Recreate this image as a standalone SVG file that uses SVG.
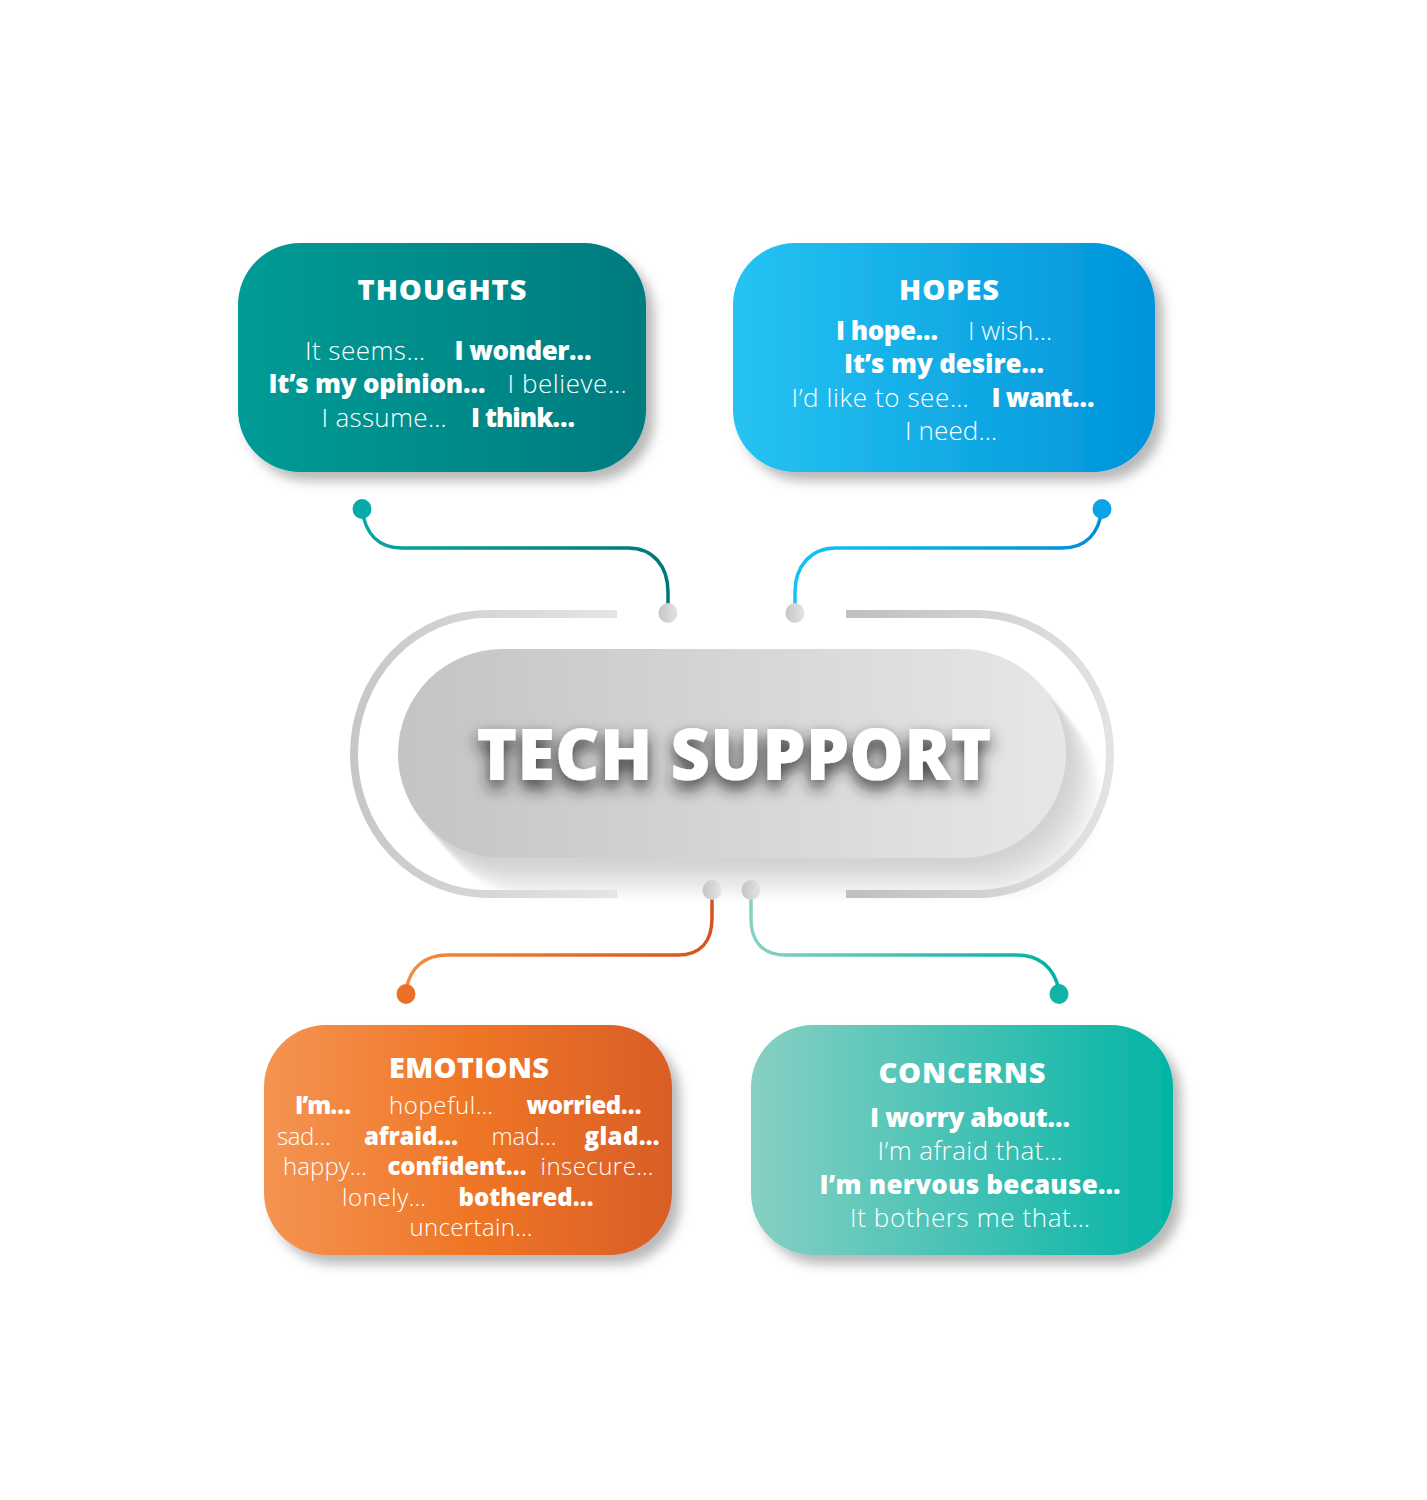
<svg xmlns="http://www.w3.org/2000/svg" width="1427" height="1500" viewBox="0 0 1427 1500">
<style>
.t{font-family:"Open Sans",Lato,"Liberation Sans",sans-serif;fill:#fff;text-anchor:middle}
.h{font-size:29px;font-weight:800}
.b{font-size:26px;font-weight:800}
.l{font-size:26px;font-weight:300}
.be{font-size:24px;font-weight:800}
.le{font-size:24px;font-weight:300}
.conn{fill:none;stroke-width:3.5;stroke-linecap:round}
</style>
<defs>
<filter id="sh" x="-10%" y="-10%" width="130%" height="140%"><feDropShadow dx="8" dy="9" stdDeviation="6" flood-color="#000" flood-opacity="0.28"/></filter>
<filter id="tsh" x="-10%" y="-40%" width="120%" height="200%"><feDropShadow dx="0" dy="8" stdDeviation="8" flood-color="#222" flood-opacity="0.9"/></filter>
<filter id="soft"><feGaussianBlur stdDeviation="1.5"/></filter>
<linearGradient id="gTh" x1="0" x2="1"><stop offset="0" stop-color="#059C96"/><stop offset="1" stop-color="#017B80"/></linearGradient>
<linearGradient id="gHo" x1="0" x2="1"><stop offset="0" stop-color="#26C3F2"/><stop offset="1" stop-color="#0094DA"/></linearGradient>
<linearGradient id="gEm" x1="0" x2="1"><stop offset="0" stop-color="#F49452"/><stop offset="0.5" stop-color="#EF7627"/><stop offset="1" stop-color="#D95E27"/></linearGradient>
<linearGradient id="gCo" x1="0" x2="1"><stop offset="0" stop-color="#87D0C3"/><stop offset="1" stop-color="#03B4A6"/></linearGradient>
<linearGradient id="gPill" x1="0" x2="1"><stop offset="0" stop-color="#C3C4C6"/><stop offset="1" stop-color="#E6E7E8"/></linearGradient>
<linearGradient id="gRingL" x1="0" x2="1"><stop offset="0" stop-color="#C6C7C9"/><stop offset="1" stop-color="#E4E5E6"/></linearGradient>
<linearGradient id="gRingR" x1="0" x2="1"><stop offset="0" stop-color="#BEBFC1"/><stop offset="1" stop-color="#E2E3E4"/></linearGradient>
<linearGradient id="gDot" x1="0" x2="1"><stop offset="0" stop-color="#C4C5C7"/><stop offset="1" stop-color="#E3E4E5"/></linearGradient>
<linearGradient id="cTh" gradientUnits="userSpaceOnUse" x1="362" y1="0" x2="668" y2="0"><stop offset="0" stop-color="#07A6A2"/><stop offset="1" stop-color="#00777A"/></linearGradient>
<linearGradient id="cHo" gradientUnits="userSpaceOnUse" x1="795" y1="0" x2="1102" y2="0"><stop offset="0" stop-color="#12C3F3"/><stop offset="1" stop-color="#008CD6"/></linearGradient>
<linearGradient id="cEm" gradientUnits="userSpaceOnUse" x1="406" y1="0" x2="712" y2="0"><stop offset="0" stop-color="#F58A3C"/><stop offset="1" stop-color="#D7531E"/></linearGradient>
<linearGradient id="cCo" gradientUnits="userSpaceOnUse" x1="751" y1="0" x2="1059" y2="0"><stop offset="0" stop-color="#86D1C3"/><stop offset="1" stop-color="#00B0A2"/></linearGradient>
<rect id="pill" x="398" y="649" width="668" height="209" rx="104.5"/>
</defs>
<rect width="1427" height="1500" fill="#fff"/>

<g id="center">
<g filter="url(#soft)">
<use href="#pill" transform="translate(36,42)" fill="#FBFBFB"/>
<use href="#pill" transform="translate(32,38)" fill="#F6F6F7"/>
<use href="#pill" transform="translate(29,34)" fill="#F1F1F2"/>
<use href="#pill" transform="translate(25,30)" fill="#ECECED"/>
<use href="#pill" transform="translate(22,26)" fill="#E7E7E8"/>
<use href="#pill" transform="translate(18,21)" fill="#E2E2E4"/>
<use href="#pill" transform="translate(14,17)" fill="#DDDDDF"/>
<use href="#pill" transform="translate(10,12)" fill="#D8D8DA"/>
<use href="#pill" transform="translate(5,6)" fill="#D2D3D5"/>
</g>
<path d="M617,614 L487,614 A133,140 0 0 0 487,894 L617,894" fill="none" stroke="url(#gRingL)" stroke-width="8"/>
<path d="M846,614 L977,614 A133,140 0 0 1 977,894 L846,894" fill="none" stroke="url(#gRingR)" stroke-width="8"/>
<use href="#pill" fill="url(#gPill)"/>
<text class="t" x="734" y="780" font-size="70" font-weight="800" filter="url(#tsh)" textLength="515" lengthAdjust="spacingAndGlyphs">TECH SUPPORT</text>
</g>

<g id="connectors">
<path class="conn" stroke="url(#cTh)" d="M362,509 C365,533 378,548 402,548 L628,548 C653,548 668,566 668,592 L668,606"/>
<path class="conn" stroke="url(#cHo)" d="M1102,509 C1099,533 1086,548 1062,548 L836,548 C811,548 795,566 795,592 L795,606"/>
<path class="conn" stroke="url(#cEm)" d="M712,898 L712,918 C712,942 700,955 678,955 L448,955 C424,955 410,968 406,990"/>
<path class="conn" stroke="url(#cCo)" d="M751,898 L751,918 C751,942 763,955 786,955 L1016,955 C1040,955 1054,968 1059,990"/>
<ellipse cx="362" cy="509" rx="9.5" ry="10" fill="#05ABAB"/>
<ellipse cx="1102" cy="509" rx="9.5" ry="10" fill="#0EA3E6"/>
<ellipse cx="406" cy="994" rx="9.5" ry="10" fill="#EC6F27"/>
<ellipse cx="1059" cy="994" rx="9.5" ry="10" fill="#10B4A6"/>
<ellipse cx="668" cy="613" rx="9.5" ry="10" fill="url(#gDot)"/>
<ellipse cx="795" cy="613" rx="9.5" ry="10" fill="url(#gDot)"/>
<ellipse cx="712" cy="890" rx="9.5" ry="10" fill="url(#gDot)"/>
<ellipse cx="751" cy="890" rx="9.5" ry="10" fill="url(#gDot)"/>
</g>

<g id="thoughts">
<rect x="238" y="243" width="408" height="229" rx="62" fill="url(#gTh)" filter="url(#sh)"/>
<text class="t h" x="442" y="300" textLength="169">THOUGHTS</text>
<text class="t l" x="365" y="360" textLength="120">It seems…</text>
<text class="t b" x="523" y="360" textLength="137">I wonder…</text>
<text class="t b" x="377" y="393" textLength="217">It’s my opinion…</text>
<text class="t l" x="567" y="393" textLength="119">I believe…</text>
<text class="t l" x="384" y="427" textLength="125">I assume…</text>
<text class="t b" x="523" y="427" textLength="104">I think…</text>
</g>

<g id="hopes">
<rect x="733" y="243" width="422" height="229" rx="62" fill="url(#gHo)" filter="url(#sh)"/>
<text class="t h" x="949" y="300" textLength="100">HOPES</text>
<text class="t b" x="887" y="340" textLength="102">I hope…</text>
<text class="t l" x="1010" y="340" textLength="84">I wish…</text>
<text class="t b" x="944" y="373" textLength="200">It’s my desire…</text>
<text class="t l" x="880" y="407" textLength="177">I’d like to see…</text>
<text class="t b" x="1043" y="407" textLength="103">I want…</text>
<text class="t l" x="951" y="440" textLength="92">I need…</text>
</g>

<g id="emotions">
<rect x="264" y="1025" width="408" height="230" rx="62" fill="url(#gEm)" filter="url(#sh)"/>
<text class="t h" x="469" y="1078" textLength="160">EMOTIONS</text>
<text class="t be" x="323" y="1114" textLength="56">I’m…</text>
<text class="t le" x="441" y="1114" textLength="104">hopeful…</text>
<text class="t be" x="584" y="1114" textLength="115">worried…</text>
<text class="t le" x="304" y="1145" textLength="54">sad…</text>
<text class="t be" x="411" y="1145" textLength="94">afraid…</text>
<text class="t le" x="524" y="1145" textLength="65">mad…</text>
<text class="t be" x="622" y="1145" textLength="75">glad…</text>
<text class="t le" x="325" y="1175" textLength="84">happy…</text>
<text class="t be" x="457" y="1175" textLength="139">confident…</text>
<text class="t le" x="597" y="1175" textLength="113">insecure…</text>
<text class="t le" x="384" y="1206" textLength="84">lonely…</text>
<text class="t be" x="526" y="1206" textLength="135">bothered…</text>
<text class="t le" x="471" y="1236" textLength="123">uncertain…</text>
</g>

<g id="concerns">
<rect x="751" y="1025" width="422" height="230" rx="62" fill="url(#gCo)" filter="url(#sh)"/>
<text class="t h" x="962" y="1083" textLength="167">CONCERNS</text>
<text class="t b" x="970" y="1127" textLength="200">I worry about…</text>
<text class="t l" x="970" y="1160" textLength="185">I’m afraid that…</text>
<text class="t b" x="970" y="1194" textLength="301">I’m nervous because…</text>
<text class="t l" x="970" y="1227" textLength="240">It bothers me that…</text>
</g>
</svg>
